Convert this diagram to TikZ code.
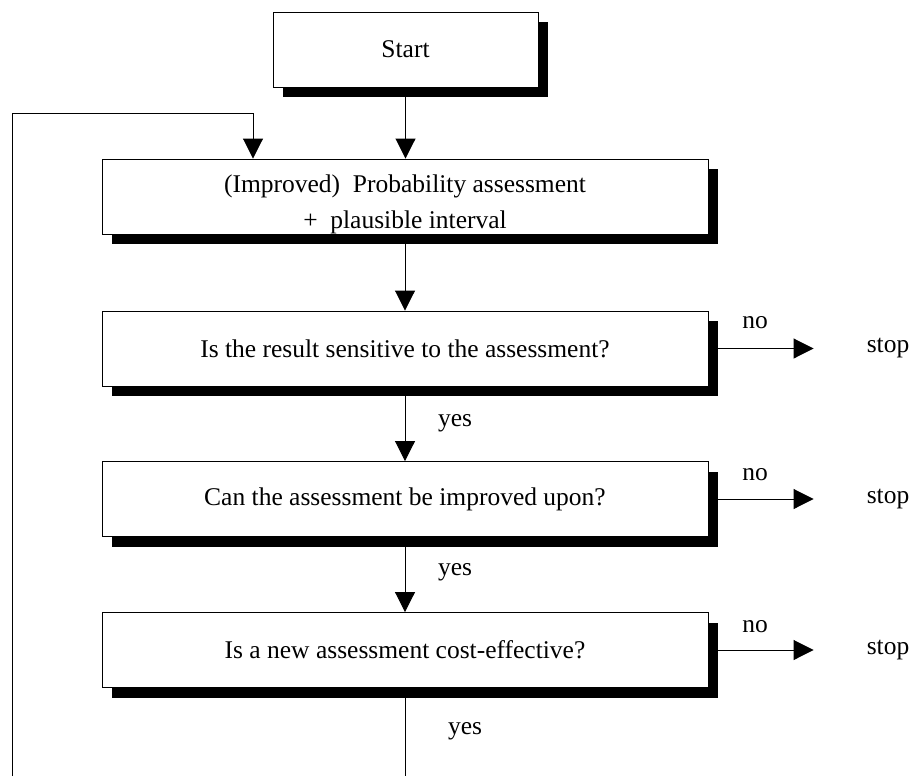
\documentclass[tikz,border=0pt]{standalone}
\usepackage{fontspec}
\setmainfont{Liberation Serif}
\usetikzlibrary{arrows.meta,shadows}
\begin{document}
\begin{tikzpicture}[x=1pt,y=-1pt,
  every node/.style={font=\fontsize{25.5}{34}\selectfont},
  box/.style={draw, fill=white, line width=0.9pt, inner sep=0pt, align=center,
    minimum height=75pt,
    drop shadow={shadow xshift=10pt, shadow yshift=-10pt, fill=black, opacity=1}},
  lbl/.style={inner sep=0pt},
  arr/.style={line width=0.9pt, -{Triangle[width=20pt,length=20pt]}},
  ln/.style={line width=0.9pt}]
\useasboundingbox (0,0) rectangle (912,776);

\node[box, minimum width=265pt] (start) at (405.5,49.5) {Start};
\node[box, minimum width=606pt] (b2) at (405,196.5) {\rule{0pt}{33pt}(Improved)\ \ Probability assessment\\[2pt]+\ \ plausible interval};
\node[box, minimum width=606pt] (b3) at (405,348.5) {Is the result sensitive to the assessment?};
\node[box, minimum width=606pt] (b4) at (405,499) {Can the assessment be improved upon?};
\node[box, minimum width=606pt] (b5) at (405,650) {Is a new assessment cost-effective?};

\node[lbl] (stop1) at (888,348.5) {stop};
\node[lbl] (stop2) at (888,499) {stop};
\node[lbl] (stop3) at (888,650) {stop};

\node[lbl] (no1) at (755,323) {no};
\node[lbl] (no2) at (755,475) {no};
\node[lbl] (no3) at (755,627) {no};

\node[lbl] (yes1) at (455,423) {yes};
\node[lbl] (yes2) at (455,572) {yes};
\node[lbl] (yes3) at (465,731) {yes};

\coordinate (lb) at (12,776);
\coordinate (lt) at (12,113);
\coordinate (lin) at (253,113);
\coordinate (bot) at (405,776);

\draw[arr] (start.south) -- (start.south |- b2.north);
\draw[arr] (lb) -- (lt) -- (lin) -- (lin |- b2.north);
\draw[arr] ([yshift=-10pt]b2.south) -- (b3.north);
\draw[arr] ([yshift=-10pt]b3.south) -- (b4.north);
\draw[arr] ([yshift=-10pt]b4.south) -- (b5.north);
\draw[ln] ([yshift=-10pt]b5.south) -- (bot);

\draw[arr] ([xshift=10pt]b3.east) -- ([xshift=-53pt]stop1.west);
\draw[arr] ([xshift=10pt]b4.east) -- ([xshift=-53pt]stop2.west);
\draw[arr] ([xshift=10pt]b5.east) -- ([xshift=-53pt]stop3.west);
\end{tikzpicture}
\end{document}
